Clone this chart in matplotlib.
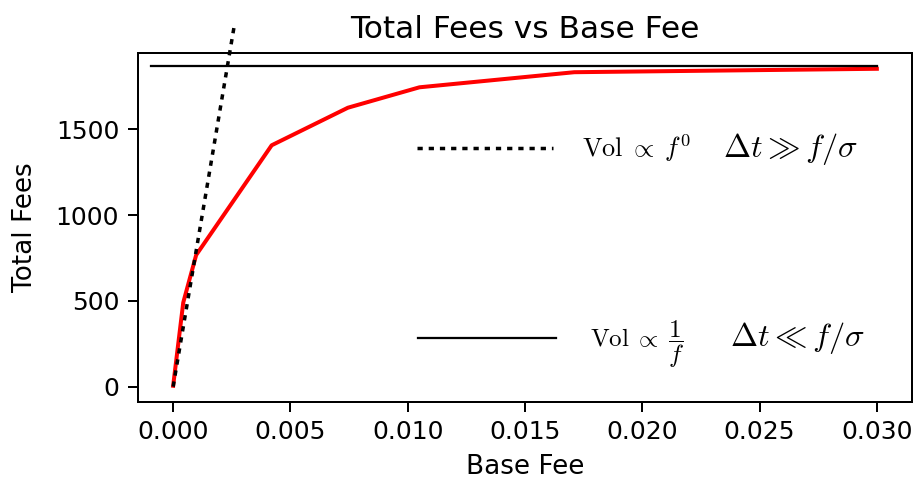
import matplotlib
matplotlib.use("Agg")
import matplotlib.pyplot as plt

plt.rcParams['mathtext.fontset'] = 'cm'

# Data
base_fee = [0.0, 0.00043, 0.00098, 0.0042, 0.00745, 0.0105, 0.0171, 0.030]
total_fees = [5, 490, 767, 1407, 1626, 1745, 1833, 1853]

linear_x = [0.0, 0.0026]
linear_y = [0, 2100]

flat_x = [-0.00095, 0.030]
flat_y = [1870, 1870]

label_dotted = r'$\mathrm{Vol}\;\propto\; f^{0}$'
regime_dotted = r'$\Delta t \gg f/\sigma$'
label_solid = r'$\mathrm{Vol}\;\propto\; \dfrac{1}{f}$'
regime_solid = r'$\Delta t \ll f/\sigma$'

fig = plt.figure(figsize=(918 / 180, 484 / 180), dpi=180)
ax = fig.add_axes([0.1503, 0.170, 0.8432, 0.7205])

ax.plot(base_fee, total_fees, color='red', lw=1.6)
ax.plot(linear_x, linear_y, color='black', lw=1.4, linestyle=(0, (1.5, 1.7)), clip_on=False)
ax.plot(flat_x, flat_y, color='black', lw=0.9)

ax.set_xlim(-0.0015, 0.0315)
ax.set_ylim(-88, 1945)
ax.set_xticks([0.0, 0.005, 0.010, 0.015, 0.020, 0.025, 0.030])
ax.set_yticks([0, 500, 1000, 1500])
ax.tick_params(length=4)

ax.set_title('Total Fees vs Base Fee', fontsize=12.5)
ax.set_xlabel('Base Fee', fontsize=10.5)
ax.set_ylabel('Total Fees', fontsize=10.5, labelpad=7)

# annotation "legend"
ax.plot([0.3609, 0.5358], [0.728, 0.728], transform=ax.transAxes, color='black',
        lw=1.4, linestyle=(0, (1.5, 1.7)))
ax.text(0.5733, 0.702, label_dotted, transform=ax.transAxes, fontsize=10.5, va='baseline')
ax.text(0.7558, 0.702, regime_dotted, transform=ax.transAxes, fontsize=13, va='baseline')

ax.plot([0.3618, 0.5401], [0.183, 0.183], transform=ax.transAxes, color='black', lw=0.9)
ax.text(0.584, 0.160, label_solid, transform=ax.transAxes, fontsize=10, va='baseline')
ax.text(0.765, 0.160, regime_solid, transform=ax.transAxes, fontsize=13, va='baseline')

fig.savefig('out.png', dpi=180)
